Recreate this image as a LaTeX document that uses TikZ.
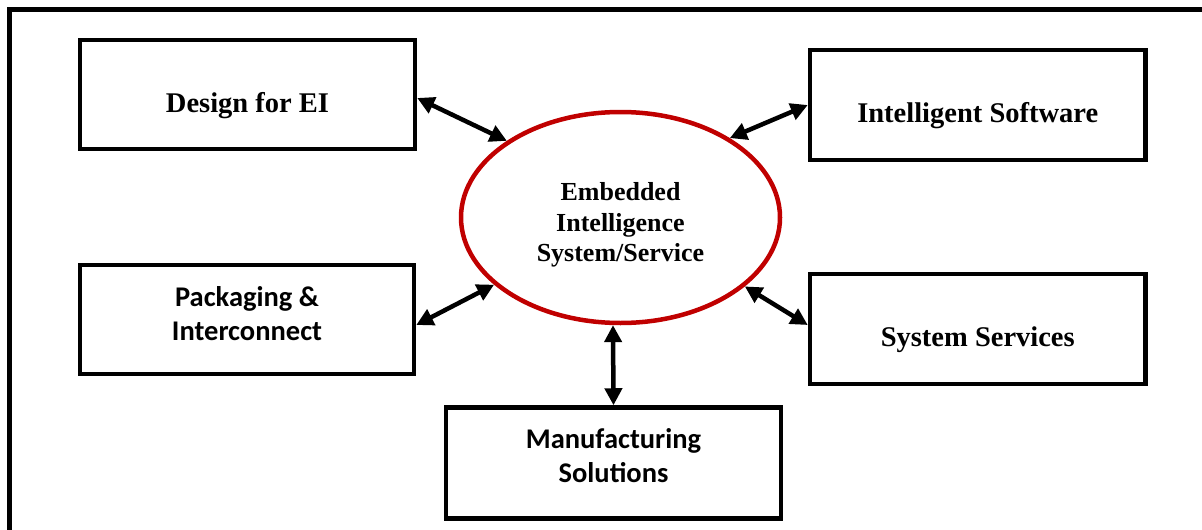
\documentclass[tikz,border=0pt]{standalone}
\usepackage{fontspec}
\setmainfont{Liberation Serif}
\newfontfamily\calib{Carlito}
\usetikzlibrary{shapes.geometric,arrows.meta}
\definecolor{ellred}{RGB}{192,0,0}
\newcommand{\shiftup}[2]{\raisebox{#1}[\height][\depth]{#2}}
\tikzset{
  box/.style={draw, line width=4.5pt, rectangle, inner sep=0pt, align=center},
  timesfont/.style={font=\bfseries\fontsize{28.5}{34}\selectfont},
  califont/.style={font=\calib\bfseries\fontsize{28.5}{34}\selectfont},
  link/.style={line width=4.5pt, {Triangle[length=17pt,width=17pt]}-{Triangle[length=17pt,width=17pt]}},
}
\begin{document}
\begin{tikzpicture}[x=1pt,y=-1pt]
\useasboundingbox (0,0) rectangle (1202,530);
\draw[line width=5pt] (9.8,535) -- (9.8,9.8) -- (1210,9.8);
\node[box, timesfont, minimum width=335pt, minimum height=109pt] (design) at (247.5,94.5) {\shiftup{-11pt}{Design for EI}};
\node[box, califont, minimum width=334pt, minimum height=109pt] (pack) at (247,319.5) {\shiftup{2.5pt}{\begin{tabular}{@{}c@{}}Packaging \&\\Interconnect\end{tabular}}};
\node[box, timesfont, minimum width=335.5pt, minimum height=110pt] (soft) at (977.75,105) {\shiftup{-11pt}{Intelligent Software}};
\node[box, timesfont, minimum width=335.5pt, minimum height=110pt] (serv) at (977.75,329) {\shiftup{-11pt}{System Services}};
\node[box, califont, minimum width=335pt, minimum height=111pt] (manu) at (613.5,463) {\shiftup{4.5pt}{\begin{tabular}{@{}c@{}}Manufacturing\\Solutions\end{tabular}}};
\node[ellipse, draw=ellred, line width=4.5pt, inner sep=0pt, minimum width=319pt, minimum height=211pt, align=center, font=\bfseries\fontsize{26}{30.5}\selectfont] (eis) at (620.5,217.5) {\shiftup{-7.5pt}{\begin{tabular}{@{}c@{}}Embedded\\Intelligence\\System/Service\end{tabular}}};
\draw[link] ([yshift=-3.5pt]design.east) -- (eis.146);
\draw[link] ([yshift=-5.5pt]pack.east) -- (eis.208);
\draw[link] (soft.west) -- (eis.36);
\draw[link] ([yshift=4pt]serv.west) -- (eis.-29);
\draw[link] (manu.north) -- (eis.266);
\end{tikzpicture}
\end{document}
